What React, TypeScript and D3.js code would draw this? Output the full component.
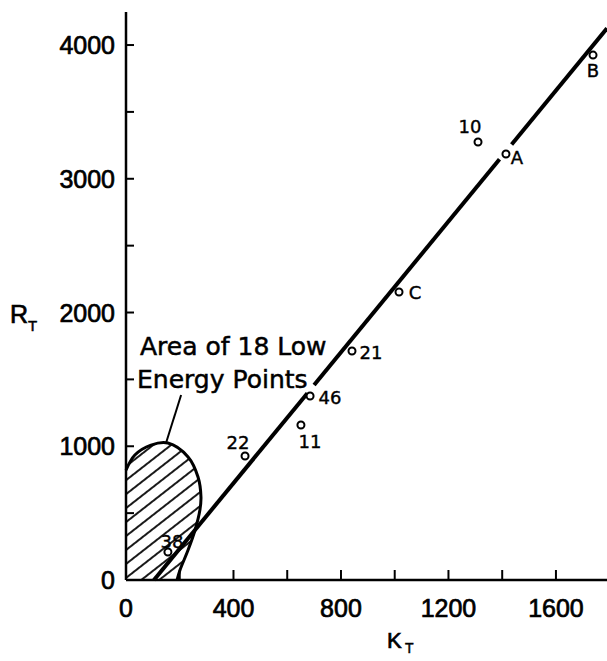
import React from 'react';
import * as d3 from 'd3';

// points (K_T, R_T)
const pointNames = ['10', 'A', 'B', 'C', '21', '46', '11', '22', '38'];
const kValues = [1310, 1414, 1738, 1016, 841, 685, 651, 443, 156];
const rValues = [3275, 3185, 3925, 2153, 1712, 1376, 1159, 927, 209];

// fitted straight line (end points) and the pieces left out around circles
const fitK = [104, 1790];
const fitR = [0, 4125];
const fitGaps = [[675, 700], [1390, 1435]];

// outline of the low-energy area (curved part, from y axis round to x axis)
const areaK = [0, 33, 93, 156, 231, 268, 279, 275, 257, 231, 201, 190];
const areaR = [822, 935, 1009, 1024, 920, 770, 621, 523, 374, 224, 75, 0];

// leader from the note to the area
const leaderK = [205, 149];
const leaderR = [1383, 1024];

const xTickValues = [200, 400, 600, 800, 1000, 1200, 1400, 1600];
const xTickLabels = ['0', '400', '800', '1200', '1600'];
const yTickValues = [500, 1000, 1500, 2000, 2500, 3000, 3500, 4000];
const yTickLabels = ['0', '1000', '2000', '3000', '4000'];

const noteLines = ['Area of 18 Low', 'Energy Points'];

const W = 607;
const H = 661;

export default function App() {
  const x = d3.scaleLinear().domain([0, 1790]).range([126, 607]);
  const y = d3.scaleLinear().domain([0, 4247]).range([580, 12]);

  const fitY = d3.scaleLinear().domain(fitK).range(fitR);
  const segs: number[][] = [];
  let start = fitK[0];
  fitGaps.forEach(([a, b]) => {
    segs.push([start, a]);
    start = b;
  });
  segs.push([start, fitK[1]]);

  const curve = d3
    .line<number>()
    .x((d) => x(areaK[d]))
    .y((d) => y(areaR[d]))
    .curve(d3.curveCatmullRom)(areaK.map((_, i) => i)) as string;
  const areaPath = `M${x(0)},${y(0)}` + curve.replace(/^M/, 'L') + 'Z';

  // label offsets in px around each point
  const labelOffset: Record<string, [number, number]> = {
    '10': [-8, -15],
    A: [11, 3],
    B: [0, 15],
    C: [16, 0],
    '21': [19, 1],
    '46': [20, 2],
    '11': [9, 17],
    '22': [-7, -14],
    '38': [4, -11],
  };

  const tickFont = "'Liberation Sans', Arial, sans-serif";
  const noteFont = "'DejaVu Sans', sans-serif";

  return (
    <svg
      width={W}
      height={H}
      style={{ position: 'absolute', left: 0, top: 0, background: '#fff' }}
    >
      <defs>
        <pattern
          id="hatch"
          patternUnits="userSpaceOnUse"
          width={12}
          height={11}
          patternTransform="rotate(-38)"
        >
          <line x1={0} y1={5} x2={12} y2={5} stroke="#000" strokeWidth={1.8} />
        </pattern>
      </defs>

      {/* hatched area */}
      <path d={areaPath} fill="url(#hatch)" stroke="none" />
      <path d={curve} fill="none" stroke="#000" strokeWidth={3} />
      <line
        x1={x(leaderK[0])}
        y1={y(leaderR[0])}
        x2={x(leaderK[1])}
        y2={y(leaderR[1])}
        stroke="#000"
        strokeWidth={2}
      />

      {/* axes */}
      <line x1={x(0)} y1={y(0)} x2={W} y2={y(0)} stroke="#000" strokeWidth={2.5} />
      <line x1={x(0)} y1={y(0)} x2={x(0)} y2={12} stroke="#000" strokeWidth={2.5} />
      {xTickValues.map((v) => (
        <line key={'xt' + v} x1={x(v)} x2={x(v)} y1={y(0)} y2={y(0) - 10} stroke="#000" strokeWidth={2} />
      ))}
      {yTickValues.map((v) => (
        <line key={'yt' + v} x1={x(0)} x2={x(0) + 8} y1={y(v)} y2={y(v)} stroke="#000" strokeWidth={2} />
      ))}
      {xTickLabels.map((t) => (
        <text
          key={'xl' + t}
          x={x(+t)}
          y={608}
          textAnchor="middle"
          dominantBaseline="central"
          fontFamily={tickFont}
          fontSize={25}
          stroke="#000"
          strokeWidth={0.7}
        >
          {t}
        </text>
      ))}
      {yTickLabels.map((t) => (
        <text
          key={'yl' + t}
          x={x(0) - 11}
          y={y(+t)}
          textAnchor="end"
          dominantBaseline="central"
          fontFamily={tickFont}
          fontSize={25}
          stroke="#000"
          strokeWidth={0.7}
        >
          {t}
        </text>
      ))}

      {/* axis titles */}
      <text x={10} y={323} fontFamily={tickFont} fontSize={25} stroke="#000" strokeWidth={0.7}>
        R
      </text>
      <text x={28} y={331} fontFamily={tickFont} fontSize={15} stroke="#000" strokeWidth={0.5}>
        T
      </text>
      <text x={387} y={648} fontFamily={tickFont} fontSize={22} stroke="#000" strokeWidth={0.7}>
        K
      </text>
      <text x={405} y={653} fontFamily={tickFont} fontSize={14} stroke="#000" strokeWidth={0.5}>
        T
      </text>

      {/* fitted line */}
      {segs.map(([a, b], i) => (
        <line
          key={'seg' + i}
          x1={x(a)}
          y1={y(fitY(a))}
          x2={x(b)}
          y2={y(fitY(b))}
          stroke="#000"
          strokeWidth={4}
        />
      ))}

      {/* note */}
      {noteLines.map((t, i) => (
        <text
          key={'note' + i}
          x={i === 0 ? 140 : 137}
          y={i === 0 ? 355 : 388}
          fontFamily={noteFont}
          fontSize={25}
          stroke="#000"
          strokeWidth={0.5}
        >
          {t}
        </text>
      ))}

      {/* points */}
      {pointNames.map((name, i) => {
        const px = x(kValues[i]);
        const py = y(rValues[i]);
        const [dx, dy] = labelOffset[name];
        return (
          <g key={'pt' + name}>
            <circle cx={px} cy={py} r={3.5} fill="#fff" stroke="#000" strokeWidth={2} />
            <text
              x={px + dx}
              y={py + dy}
              textAnchor="middle"
              dominantBaseline="central"
              fontFamily={noteFont}
              fontSize={18}
              stroke="#000"
              strokeWidth={0.4}
            >
              {name}
            </text>
          </g>
        );
      })}
    </svg>
  );
}
